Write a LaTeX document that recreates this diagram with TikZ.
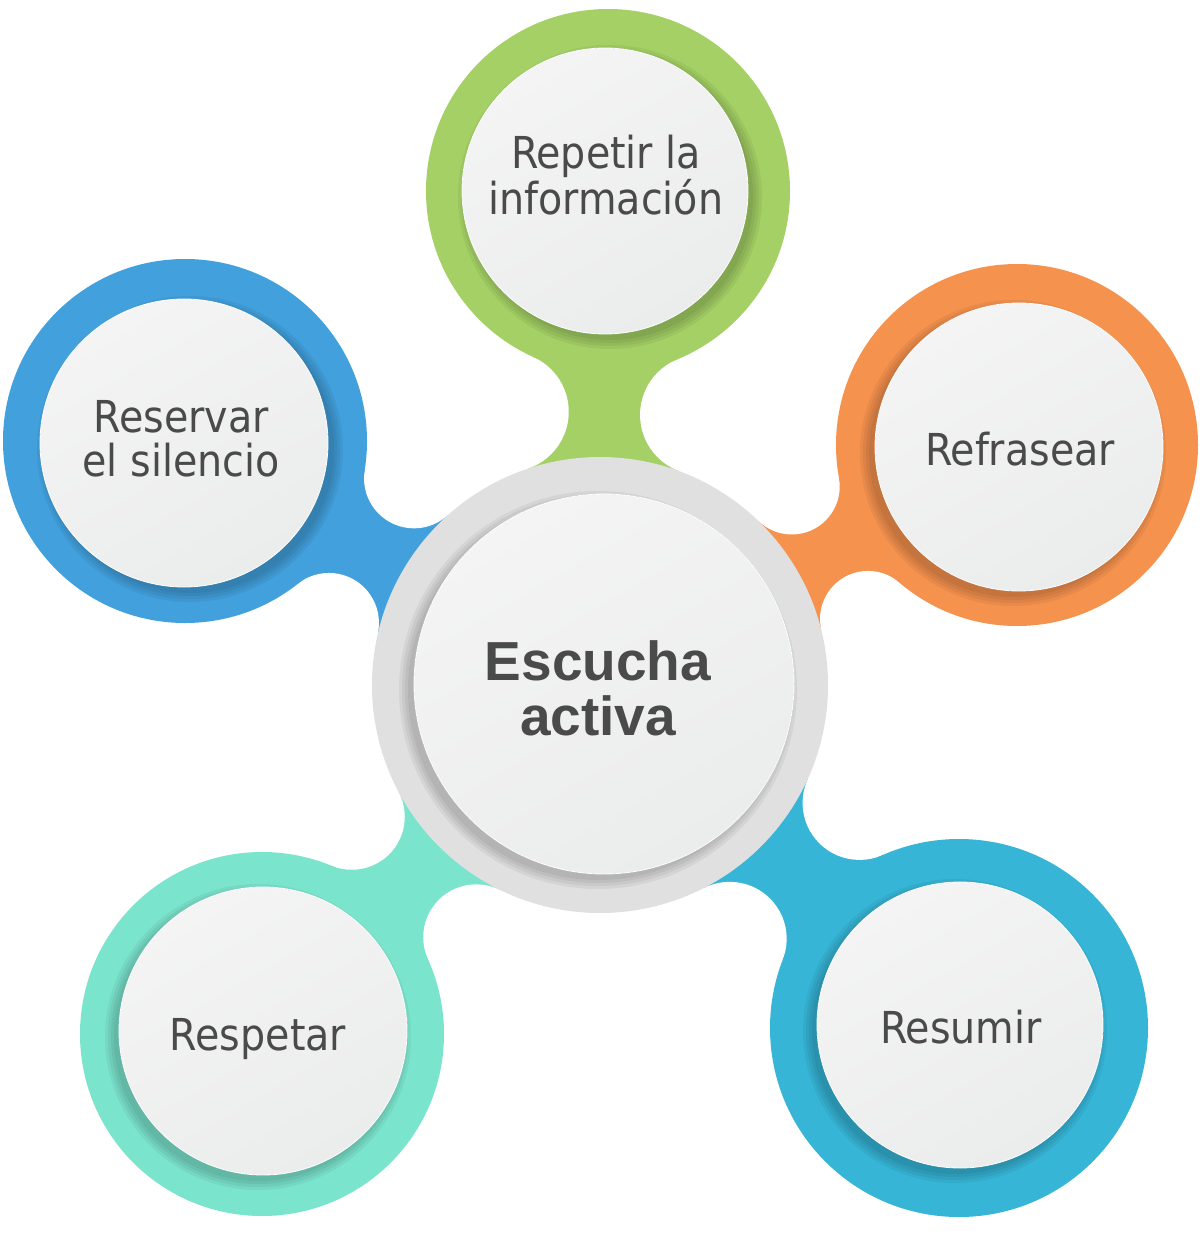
\documentclass[tikz,border=0pt]{standalone}
\usepackage{fontspec}
\usetikzlibrary{intersections}
\newfontfamily\petalfont{DejaVu Sans Condensed}
\newfontfamily\hubfont{Liberation Sans}

\definecolor{leafgreen}{HTML}{A4D065}
\definecolor{skyblue}{HTML}{42A0DC}
\definecolor{peach}{HTML}{F5924E}
\definecolor{mint}{HTML}{7BE4CD}
\definecolor{cyanblue}{HTML}{36B5D6}
\definecolor{hubgrey}{HTML}{E0E0E0}
\definecolor{facetop}{HTML}{F4F4F4}
\definecolor{facebot}{HTML}{EBECEC}
\definecolor{txt}{HTML}{4A4A4A}

\tikzset{face/.style = {top color=facetop, bottom color=facebot, shading angle=30, draw=white, line width=0.8pt},
  petaltext/.style = {text=txt, inner sep=0pt, align=center, font=\petalfont\fontsize{44pt}{44pt}\selectfont},
  hubtext/.style = {text=txt, inner sep=0pt, align=center, font=\hubfont\bfseries\fontsize{55pt}{55pt}\selectfont}}

% neck from petal #1 (radius #2) to the hub, fillet radius #3, colour #4
\newcommand{\drawneck}[4]{%
  \path[name path=pa] (#1) circle[radius=#2pt+#3pt];
  \path[name path=pb] (hub) circle[radius=228pt+#3pt];
  \path[name intersections={of=pa and pb, name=f}];
  \fill[#4] (#1) -- (f-1) -- (hub) -- (f-2) -- cycle;
  \fill[white] (f-1) circle[radius=#3pt] (f-2) circle[radius=#3pt];}

% light disc at #1, radius #2, shadow offset (#3,#4)
\newcommand{\drawface}[4]{%
  \foreach \b in {9,6,3,0}
    \fill[black, opacity=.05] ([shift={(#3,#4)}]#1) circle[radius=#2pt+\b pt];
  \fill[face] (#1) circle[radius=#2pt];}

\begin{document}
\begin{tikzpicture}[x=1pt, y=-1pt]
\fill[white] (0,0) rectangle (1200,1236);
\useasboundingbox (0,0) rectangle (1200,1236);

\coordinate (hub) at (600,685);
\coordinate (rep) at (608,191);
\coordinate (res) at (185,441);
\coordinate (ref) at (1017,445);
\coordinate (resp) at (262,1034);
\coordinate (resu) at (959,1028);

\drawneck{rep}{182}{60}{leafgreen}
\drawneck{res}{182}{50}{skyblue}
\drawneck{ref}{181}{48}{peach}
\drawneck{resp}{182}{53}{mint}
\drawneck{resu}{189}{57}{cyanblue}

\fill[leafgreen] (rep) circle[radius=182pt];
\fill[skyblue] (res) circle[radius=182pt];
\fill[peach] (ref) circle[radius=181pt];
\fill[mint] (resp) circle[radius=182pt];
\fill[cyanblue] (resu) circle[radius=189pt];
\fill[hubgrey] (hub) circle[radius=228pt];

\drawface{605,191}{143}{5}{6}
\drawface{184,443}{144}{6}{6}
\drawface{1019,447}{144}{-6}{6}
\drawface{263,1031}{144}{-5}{6}
\drawface{960,1025}{143}{-5}{6}
\drawface{604,684}{190}{-6}{6}

\node[petaltext] (repetir) at (606,175) {Repetir la\\información};
\node[petaltext] (reservar) at (181,439) {Reservar\\el silencio};
\node[petaltext, anchor=base] (refrasear) at (1020,465) {Refrasear};
\node[petaltext, anchor=base] (respetar) at (258,1050) {Respetar};
\node[petaltext, anchor=base] (resumir) at (961,1043) {Resumir};
\node[hubtext] (escucha) at (598,688) {Escucha\\activa};
\end{tikzpicture}
\end{document}
